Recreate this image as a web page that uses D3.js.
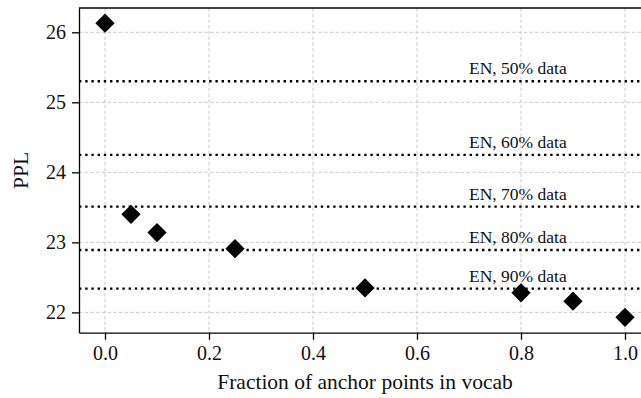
<!DOCTYPE html>
<html>
<head>
<meta charset="utf-8">
<script src="https://cdn.jsdelivr.net/npm/d3@7"></script>
<style>
  body { margin: 0; background: #fff; }
  svg { display: block; font-family: "Liberation Serif", "DejaVu Serif", serif; }
</style>
</head>
<body>
<svg id="chart" width="641" height="398"></svg>
<script>
// anchor fraction vs perplexity
const fractions = [0, 0.05, 0.1, 0.25, 0.5, 0.8, 0.9, 1.0];
const ppl = [26.13, 23.40, 23.14, 22.91, 22.35, 22.28, 22.16, 21.93];

// english-only baselines
const baseLabels = ["EN, 50% data", "EN, 60% data", "EN, 70% data", "EN, 80% data", "EN, 90% data"];
const baseValues = [25.30, 24.25, 23.51, 22.89, 22.34];

const xTicks = [0, 0.2, 0.4, 0.6, 0.8, 1.0];
const yTicks = [22, 23, 24, 25, 26];

const svg = d3.select("#chart");
const margin = {top: 8, left: 79, bottom: 65.3};
const height = 398 - margin.top - margin.bottom;
const width = 572; // right spine falls just outside the picture

const x = d3.scaleLinear().domain([-0.05, 1.05]).range([0, width]);
const y = d3.scaleLinear().domain([21.71, 26.347]).range([height, 0]);

const g = svg.append("g").attr("transform", `translate(${margin.left},${margin.top})`);

// grid
g.append("g").selectAll("line").data(xTicks).enter().append("line")
    .attr("x1", d => x(d)).attr("x2", d => x(d))
    .attr("y1", 0).attr("y2", height)
    .attr("stroke", "#c4c4c4").attr("stroke-width", 0.9).attr("stroke-dasharray", "3.5,2.2");
g.append("g").selectAll("line").data(yTicks).enter().append("line")
    .attr("x1", 0).attr("x2", width)
    .attr("y1", d => y(d)).attr("y2", d => y(d))
    .attr("stroke", "#c4c4c4").attr("stroke-width", 0.9).attr("stroke-dasharray", "3.5,2.2");

// baselines
g.append("g").selectAll("line").data(baseValues).enter().append("line")
    .attr("x1", 0).attr("x2", width)
    .attr("y1", d => y(d)).attr("y2", d => y(d))
    .attr("stroke", "#000").attr("stroke-width", 2.4).attr("stroke-dasharray", "2.4,3.8");

g.append("g").selectAll("text").data(baseLabels).enter().append("text")
    .attr("x", x(0.7))
    .attr("y", (d, i) => y(baseValues[i] + 0.1))
    .attr("font-size", 17.5)
    .attr("fill", "#111")
    .text(d => d);

// markers
const diamond = d3.symbol().type(d3.symbolSquare).size(185);
g.append("g").selectAll("path").data(fractions).enter().append("path")
    .attr("d", diamond)
    .attr("transform", (d, i) => `translate(${x(d)},${y(ppl[i])}) rotate(45)`)
    .attr("fill", "#000");

// axes
const xAxis = g.append("g").attr("transform", `translate(0,${height})`)
    .call(d3.axisBottom(x).tickValues(xTicks).tickFormat(d3.format(".1f"))
        .tickSize(7).tickSizeOuter(0).tickPadding(6));
const yAxis = g.append("g")
    .call(d3.axisLeft(y).tickValues(yTicks).tickFormat(d3.format("d"))
        .tickSize(7).tickSizeOuter(0).tickPadding(6));

[xAxis, yAxis].forEach(a => {
    a.select(".domain").attr("stroke", "#000").attr("stroke-width", 1.3);
    a.selectAll(".tick line").attr("stroke", "#000").attr("stroke-width", 1.3);
    a.selectAll(".tick text").attr("font-size", 20).attr("fill", "#111")
        .attr("font-family", "Liberation Serif, serif");
});

// top and right spines
g.append("line").attr("x1", 0).attr("x2", width).attr("y1", 0).attr("y2", 0)
    .attr("stroke", "#000").attr("stroke-width", 1.3);
g.append("line").attr("x1", width).attr("x2", width).attr("y1", 0).attr("y2", height)
    .attr("stroke", "#000").attr("stroke-width", 1.3);

// axis titles
svg.append("text")
    .attr("x", margin.left + x(0.5)).attr("y", 389)
    .attr("text-anchor", "middle").attr("font-size", 21.5).attr("fill", "#111")
    .text("Fraction of anchor points in vocab");
svg.append("text")
    .attr("transform", `translate(28,${margin.top + height / 2}) rotate(-90)`)
    .attr("text-anchor", "middle").attr("font-size", 21.5).attr("fill", "#111")
    .text("PPL");
</script>
</body>
</html>
